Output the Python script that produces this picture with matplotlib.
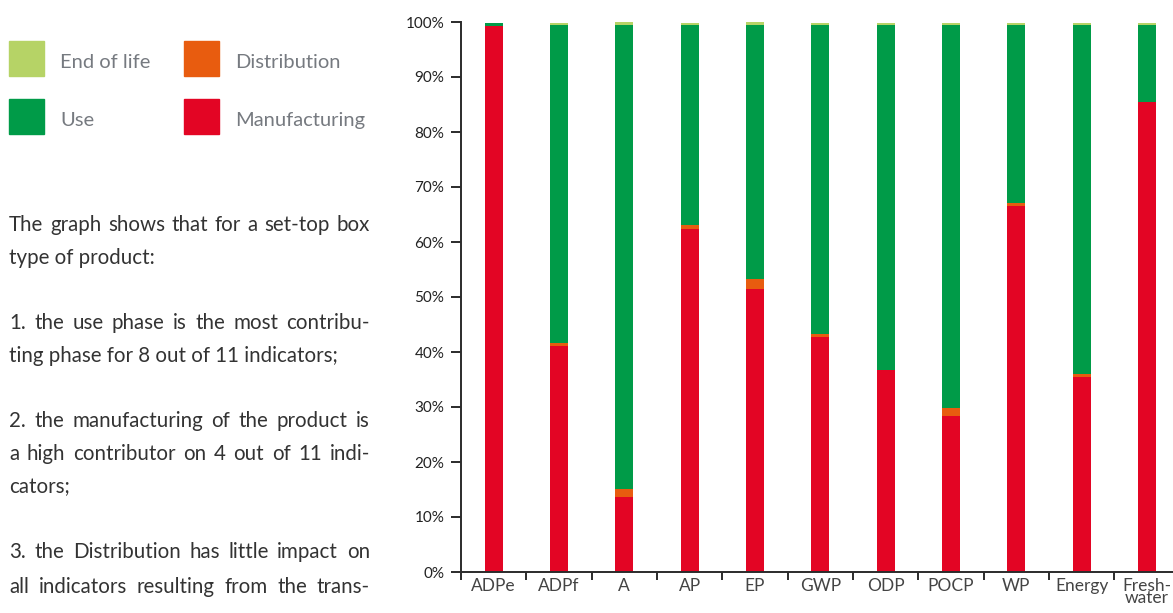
import matplotlib
matplotlib.use('Agg')
import matplotlib.pyplot as plt
import numpy as np

plt.rcParams['font.family'] = ['Lato', 'DejaVu Sans']

# data: share of each life-cycle phase per indicator (%)
categories = ['ADPe', 'ADPf', 'A', 'AP', 'EP', 'GWP', 'ODP', 'POCP', 'WP', 'Energy', 'Fresh-\nwater']
manufacturing = [99.3, 41.1, 13.6, 62.4, 51.5, 42.7, 36.8, 28.4, 66.5, 35.5, 85.5]
distribution = [0.0, 0.5, 1.5, 0.7, 1.8, 0.6, 0.0, 1.4, 0.6, 0.5, 0.0]
use = [0.5, 57.8, 84.3, 36.3, 46.1, 56.1, 62.6, 69.6, 32.3, 63.4, 13.9]
end_of_life = [0.0, 0.4, 0.6, 0.4, 0.6, 0.4, 0.4, 0.4, 0.4, 0.4, 0.4]

phases = ['End of life', 'Distribution', 'Use', 'Manufacturing']
colors = {'End of life': '#b6d366', 'Distribution': '#e85c0f',
          'Use': '#009b48', 'Manufacturing': '#e30524'}

paragraphs = [
    ['The graph shows that for a set-top box', 'type of product:'],
    ['1. the use phase is the most contribu-', 'ting phase for 8 out of 11 indicators;'],
    ['2. the manufacturing of the product is', 'a high contributor on 4 out of 11 indi-', 'cators;'],
    ['3. the Distribution has little impact on', 'all indicators resulting from the trans-',
     'portation and the end of life phases'],
]

W, H = 1173, 613
fig = plt.figure(figsize=(W / 100, H / 100), dpi=100, facecolor='white')


def px(x, y):
    return x / W, 1 - y / H


# ---- bar chart ----
ax = fig.add_axes([461 / W, 41 / H, 718.6 / W, 550 / H])
xs = np.arange(len(categories))
bottom = np.zeros(len(categories))
for name, vals in [('Manufacturing', manufacturing), ('Distribution', distribution),
                   ('Use', use), ('End of life', end_of_life)]:
    vals = np.array(vals)
    ax.bar(xs, vals, 0.276, bottom=bottom, color=colors[name], linewidth=0)
    bottom += vals

ax.set_xlim(-0.5, len(categories) - 0.5)
ax.set_ylim(0, 100)
ax.set_yticks(np.arange(0, 101, 10))
ax.set_yticklabels(['%d%%' % v for v in range(0, 101, 10)])
ax.set_xticks(np.arange(len(categories) + 1) - 0.5)
ax.set_xticklabels([])
ax.set_xticks(xs, minor=True)
ax.set_xticklabels(categories, minor=True)
for s in ['top', 'right']:
    ax.spines[s].set_visible(False)
for s in ['left', 'bottom']:
    ax.spines[s].set_color('#2b2b2b')
    ax.spines[s].set_linewidth(1.4)
ax.tick_params(axis='y', direction='out', length=7, width=1.4, color='#2b2b2b',
               labelsize=11, labelcolor='#222222', pad=5)
ax.tick_params(axis='x', which='major', direction='out', length=6, width=1.4, color='#2b2b2b')
ax.tick_params(axis='x', which='minor', length=0, labelsize=12.5, labelcolor='#444444', pad=4)
for lbl in ax.get_xticklabels(minor=True):
    lbl.set_linespacing(0.75)

# ---- legend ----
leg_items = [('End of life', 9, 41), ('Distribution', 184, 41),
             ('Use', 9, 99), ('Manufacturing', 184, 99)]
for name, lx, ly in leg_items:
    fig.patches.append(plt.Rectangle(px(lx, ly + 35), 35 / W, 35 / H, color=colors[name],
                                     transform=fig.transFigure, figure=fig))
    fig.text(*px(lx + 51, ly + 27), name, fontsize=14.5,
             color='#767a80', va='baseline')

# ---- justified body text ----
renderer = fig.canvas.get_renderer()
x0, x1 = 9, 370
baselines = [231, 264, 329, 362, 427, 460, 493, 558, 593, 629]
k = 0
for para in paragraphs:
    for i, line in enumerate(para):
        y = baselines[k]
        last = (i == len(para) - 1)
        if last:
            fig.text(*px(x0, y), line, fontsize=14.8, color='#333333', va='baseline')
        else:
            words = line.split(' ')
            texts = [fig.text(*px(x0, y), w, fontsize=14.8, color='#333333', va='baseline')
                     for w in words]
            widths = [t.get_window_extent(renderer).width for t in texts]
            gap = (x1 - x0 - sum(widths)) / (len(words) - 1)
            cx = x0
            for t, wd in zip(texts, widths):
                t.set_x(cx / W)
                cx += wd + gap
        k += 1

fig.savefig('out.png', dpi=100)
